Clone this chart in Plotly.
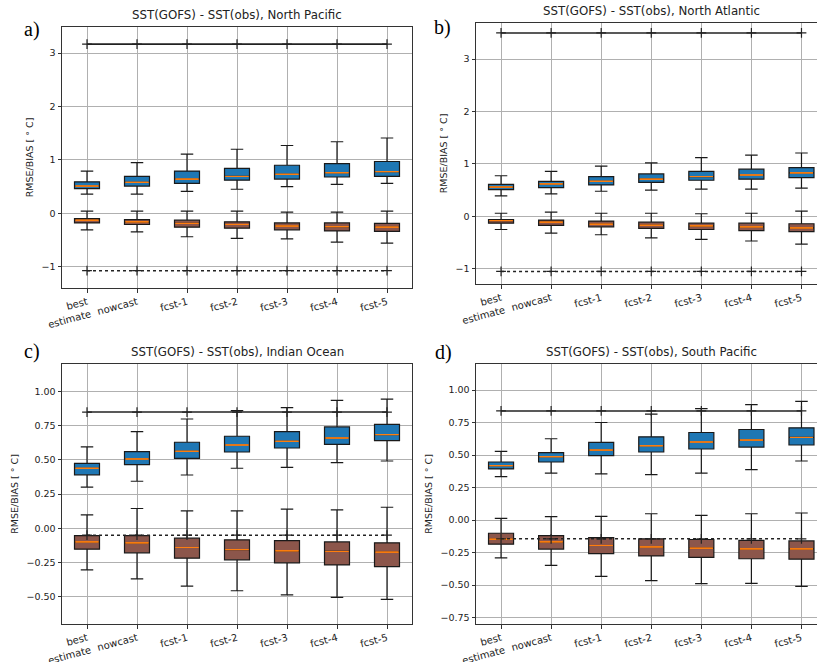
import plotly.graph_objects as go

W, H = 817, 662

categories = ["best<br>estimate", "nowcast", "fcst-1", "fcst-2", "fcst-3", "fcst-4", "fcst-5"]

# ---- Panel a: North Pacific ----
a_rmse_low = [0.36, 0.36, 0.41, 0.45, 0.50, 0.54, 0.56]
a_rmse_q1 = [0.46, 0.51, 0.56, 0.62, 0.64, 0.68, 0.69]
a_rmse_med = [0.51, 0.58, 0.64, 0.69, 0.73, 0.76, 0.78]
a_rmse_q3 = [0.59, 0.69, 0.79, 0.84, 0.90, 0.93, 0.97]
a_rmse_high = [0.79, 0.95, 1.11, 1.20, 1.27, 1.34, 1.41]
a_bias_low = [-0.31, -0.35, -0.44, -0.47, -0.48, -0.54, -0.56]
a_bias_q1 = [-0.18, -0.21, -0.26, -0.28, -0.31, -0.33, -0.34]
a_bias_med = [-0.13, -0.16, -0.19, -0.21, -0.24, -0.25, -0.26]
a_bias_q3 = [-0.10, -0.12, -0.13, -0.16, -0.18, -0.18, -0.19]
a_bias_high = [0.04, 0.04, 0.04, 0.04, 0.02, 0.02, 0.04]
a_ref_solid = [3.17] * 7
a_ref_dotted = [-1.075] * 7

# ---- Panel b: North Atlantic ----
b_rmse_low = [0.39, 0.43, 0.48, 0.50, 0.52, 0.52, 0.54]
b_rmse_q1 = [0.51, 0.55, 0.60, 0.65, 0.69, 0.71, 0.74]
b_rmse_med = [0.56, 0.62, 0.67, 0.71, 0.76, 0.79, 0.83]
b_rmse_q3 = [0.61, 0.67, 0.76, 0.81, 0.86, 0.90, 0.93]
b_rmse_high = [0.775, 0.86, 0.96, 1.02, 1.12, 1.17, 1.21]
b_bias_low = [-0.25, -0.32, -0.35, -0.41, -0.44, -0.47, -0.53]
b_bias_q1 = [-0.13, -0.17, -0.20, -0.23, -0.25, -0.27, -0.29]
b_bias_med = [-0.08, -0.11, -0.15, -0.17, -0.18, -0.20, -0.22]
b_bias_q3 = [-0.06, -0.07, -0.09, -0.11, -0.13, -0.13, -0.14]
b_bias_high = [0.06, 0.08, 0.06, 0.06, 0.05, 0.06, 0.10]
b_ref_solid = [3.50] * 7
b_ref_dotted = [-1.05] * 7

# ---- Panel c: Indian Ocean ----
c_rmse_low = [0.300, 0.343, 0.389, 0.438, 0.445, 0.479, 0.491]
c_rmse_q1 = [0.390, 0.465, 0.511, 0.557, 0.586, 0.613, 0.640]
c_rmse_med = [0.438, 0.506, 0.562, 0.608, 0.635, 0.659, 0.684]
c_rmse_q3 = [0.474, 0.560, 0.628, 0.672, 0.706, 0.740, 0.759]
c_rmse_high = [0.594, 0.706, 0.798, 0.859, 0.881, 0.934, 0.944]
c_bias_low = [-0.304, -0.370, -0.423, -0.457, -0.487, -0.506, -0.520]
c_bias_q1 = [-0.153, -0.180, -0.219, -0.231, -0.253, -0.268, -0.280]
c_bias_med = [-0.100, -0.107, -0.141, -0.156, -0.165, -0.170, -0.175]
c_bias_q3 = [-0.054, -0.054, -0.073, -0.085, -0.090, -0.100, -0.107]
c_bias_high = [0.097, 0.144, 0.127, 0.127, 0.139, 0.134, 0.153]
c_ref_solid = [0.849] * 7
c_ref_dotted = [-0.051] * 7

# ---- Panel d: South Pacific ----
d_rmse_low = [0.334, 0.360, 0.355, 0.349, 0.360, 0.388, 0.454]
d_rmse_q1 = [0.393, 0.446, 0.495, 0.523, 0.546, 0.561, 0.577]
d_rmse_med = [0.418, 0.487, 0.538, 0.571, 0.600, 0.615, 0.635]
d_rmse_q3 = [0.446, 0.518, 0.597, 0.640, 0.673, 0.696, 0.709]
d_rmse_high = [0.528, 0.625, 0.750, 0.814, 0.857, 0.888, 0.913]
d_bias_low = [-0.291, -0.349, -0.434, -0.467, -0.490, -0.487, -0.510]
d_bias_q1 = [-0.186, -0.224, -0.258, -0.276, -0.288, -0.298, -0.301]
d_bias_med = [-0.148, -0.168, -0.196, -0.207, -0.217, -0.222, -0.222]
d_bias_q3 = [-0.102, -0.120, -0.135, -0.145, -0.150, -0.156, -0.161]
d_bias_high = [0.013, 0.026, 0.028, 0.048, 0.036, 0.048, 0.054]
d_ref_solid = [0.839] * 7
d_ref_dotted = [-0.145] * 7

a_yticks = [-1, 0, 1, 2, 3]
b_yticks = [-1, 0, 1, 2, 3]
c_yticks = [-0.5, -0.25, 0.0, 0.25, 0.5, 0.75, 1.0]
d_yticks = [-0.75, -0.5, -0.25, 0.0, 0.25, 0.5, 0.75, 1.0]

titles = ["SST(GOFS) - SST(obs), North Pacific", "SST(GOFS) - SST(obs), North Atlantic",
          "SST(GOFS) - SST(obs), Indian Ocean", "SST(GOFS) - SST(obs), South Pacific"]
panel_letters = ["a)", "b)", "c)", "d)"]

BLUE = "#1f77b4"
BROWN = "#8c564b"
ORANGE = "#ff7f0e"
FONT = "DejaVu Sans"


def fmt(v, dec):
    s = f"{abs(v):.{dec}f}"
    return ("\u2212" + s) if v < 0 else s


panels = [
    dict(rmse=(a_rmse_low, a_rmse_q1, a_rmse_med, a_rmse_q3, a_rmse_high),
         bias=(a_bias_low, a_bias_q1, a_bias_med, a_bias_q3, a_bias_high),
         solid=a_ref_solid, dotted=a_ref_dotted, yticks=a_yticks, dec=0,
         yrange=[-1.4, 3.49], px=(62, 412), py=(27, 288), xr=[-0.5, 6.5]),
    dict(rmse=(b_rmse_low, b_rmse_q1, b_rmse_med, b_rmse_q3, b_rmse_high),
         bias=(b_bias_low, b_bias_q1, b_bias_med, b_bias_q3, b_bias_high),
         solid=b_ref_solid, dotted=b_ref_dotted, yticks=b_yticks, dec=0,
         yrange=[-1.29, 3.69], px=(476, 817), py=(23, 284), xr=[-0.5, 6.31]),
    dict(rmse=(c_rmse_low, c_rmse_q1, c_rmse_med, c_rmse_q3, c_rmse_high),
         bias=(c_bias_low, c_bias_q1, c_bias_med, c_bias_q3, c_bias_high),
         solid=c_ref_solid, dotted=c_ref_dotted, yticks=c_yticks, dec=2,
         yrange=[-0.7, 1.2], px=(62, 412), py=(364, 624), xr=[-0.5, 6.5]),
    dict(rmse=(d_rmse_low, d_rmse_q1, d_rmse_med, d_rmse_q3, d_rmse_high),
         bias=(d_bias_low, d_bias_q1, d_bias_med, d_bias_q3, d_bias_high),
         solid=d_ref_solid, dotted=d_ref_dotted, yticks=d_yticks, dec=2,
         yrange=[-0.8, 1.2], px=(476, 817), py=(364, 624), xr=[-0.5, 6.31]),
]

fig = go.Figure()
annotations = []
layout_axes = {}

for i, p in enumerate(panels):
    n = "" if i == 0 else str(i + 1)
    xa, ya = "x" + n, "y" + n
    for stats, color in ((p["rmse"], BLUE), (p["bias"], BROWN)):
        lo, q1, med, q3, hi = stats
        fig.add_trace(go.Box(
            x=categories, q1=q1, median=med, q3=q3, lowerfence=lo, upperfence=hi,
            width=0.5, whiskerwidth=0.5, fillcolor=color,
            line=dict(color="#1a1a1a", width=1.2), boxpoints=False,
            xaxis=xa, yaxis=ya, showlegend=False, hoverinfo="skip"))
        fig.add_trace(go.Box(
            x=categories, q1=med, median=med, q3=med, lowerfence=med, upperfence=med,
            width=0.46, whiskerwidth=0, fillcolor="rgba(0,0,0,0)",
            line=dict(color=ORANGE, width=1), boxpoints=False,
            xaxis=xa, yaxis=ya, showlegend=False, hoverinfo="skip"))
    fig.add_trace(go.Scatter(
        x=categories, y=p["solid"], mode="lines+markers",
        line=dict(color="#222222", width=1.6),
        marker=dict(symbol="cross-thin", size=7, line=dict(width=1.2, color="#222222")),
        xaxis=xa, yaxis=ya, showlegend=False, hoverinfo="skip"))
    fig.add_trace(go.Scatter(
        x=categories, y=p["dotted"], mode="lines+markers",
        line=dict(color="#222222", width=1.5, dash="dot"),
        marker=dict(symbol="cross-thin", size=7, line=dict(width=1.2, color="#222222")),
        xaxis=xa, yaxis=ya, showlegend=False, hoverinfo="skip"))

    x0, x1 = p["px"]
    y0, y1 = p["py"]
    full_right = x1 if i in (0, 2) else 826
    layout_axes["xaxis" + n] = dict(
        domain=[x0 / W, x1 / W], anchor=ya, type="category", automargin=False,
        range=p["xr"], categoryorder="array", categoryarray=categories,
        showgrid=True, gridcolor="#b0b0b0", gridwidth=1,
        showline=True, linecolor="#333333", linewidth=1, mirror=True,
        ticks="outside", ticklen=3.5, tickcolor="#333333",
        tickangle=-15, tickfont=dict(family=FONT, size=10, color="#222222"),
        zeroline=False, fixedrange=True)
    layout_axes["yaxis" + n] = dict(
        domain=[1 - y1 / H, 1 - y0 / H], anchor=xa, range=p["yrange"], automargin=False,
        tickvals=p["yticks"], ticktext=[fmt(v, p["dec"]) for v in p["yticks"]],
        showgrid=True, gridcolor="#b0b0b0", gridwidth=1,
        showline=True, linecolor="#333333", linewidth=1,
        mirror=(i in (0, 2)),
        ticks="outside", ticklen=3.5, tickcolor="#333333",
        tickfont=dict(family=FONT, size=9.5, color="#222222"),
        title=dict(text="RMSE/BIAS [ \u00b0 C]", font=dict(family=FONT, size=9.5, color="#222222"),
                   standoff=6),
        zeroline=False, fixedrange=True)
    annotations.append(dict(
        text=titles[i], xref="paper", yref="paper",
        x=((x0 + full_right) / 2) / W, y=1 - y0 / H, xanchor="center", yanchor="bottom",
        yshift=3, showarrow=False, font=dict(family=FONT, size=11.8, color="#222222")))

letter_pos = [(22, 30), (432, 27), (22, 351), (433, 352)]
for (lx, ly), t in zip(letter_pos, panel_letters):
    annotations.append(dict(
        text=t, xref="paper", yref="paper", x=lx / W, y=1 - ly / H,
        xanchor="left", yanchor="middle", showarrow=False,
        font=dict(family="Liberation Serif", size=20, color="#000000")))

fig.update_layout(
    width=W, height=H, margin=dict(l=0, r=0, t=0, b=0, autoexpand=False),
    paper_bgcolor="white", plot_bgcolor="white",
    boxmode="overlay", annotations=annotations, **layout_axes)

fig.write_html("out.html", config={"displayModeBar": False},
               post_script="document.body.style.margin='0';")
